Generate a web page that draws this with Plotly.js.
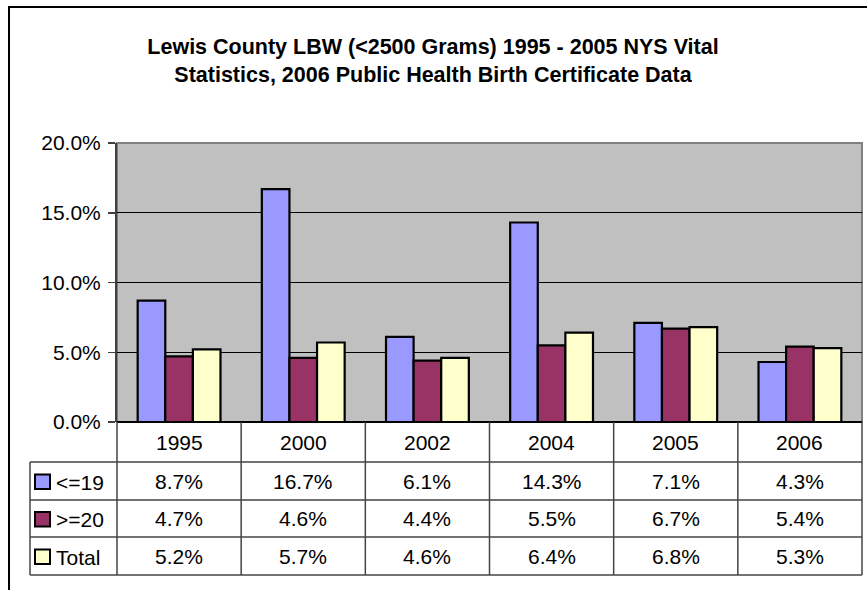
<!DOCTYPE html>
<html>
<head>
<meta charset="utf-8">
<script src="https://cdn.plot.ly/plotly-3.0.1.min.js"></script>
<style>html,body{margin:0;padding:0;background:#fff;}#chart{width:867px;height:590px;}</style>
</head>
<body>
<div id="chart"></div>
<script>
// ---- data ----
var years = ['1995', '2000', '2002', '2004', '2005', '2006'];
var seriesNames = ['<=19', '>=20', 'Total'];
var le19 = [8.7, 16.7, 6.1, 14.3, 7.1, 4.3];
var ge20 = [4.7, 4.6, 4.4, 5.5, 6.7, 5.4];
var total = [5.2, 5.7, 4.6, 6.4, 6.8, 5.3];
var yTickVals = [0, 5, 10, 15, 20];
var yTickText = ['0.0%', '5.0%', '10.0%', '15.0%', '20.0%'];
var titleText = 'Lewis County LBW (<2500 Grams) 1995 - 2005 NYS Vital<br>Statistics, 2006 Public Health Birth Certificate Data';

// ---- styling ----
var colors = ['#9999FF', '#993366', '#FFFFCC'];
var seriesData = [le19, ge20, total];
var W = 867, H = 590;
var L = 117, R = 862, T = 143, B = 422;
var pw = R - L, ph = B - T;
function px(x) { return (x - L) / pw; }
function py(y) { return (B - y) / ph; }

var traces = seriesData.map(function (d, k) {
  return {
    type: 'bar',
    x: years.map(function (_, i) { return i; }),
    y: d,
    name: seriesNames[k],
    marker: { color: colors[k], line: { color: '#000', width: 2.2 } },
    hoverinfo: 'skip'
  };
});

var font = 'Arial, "Liberation Sans", sans-serif';
var fs = 21;
var lineCol = '#444444';
var shapes = [];
var annotations = [];

// outer chart border
shapes.push({ type: 'path', xref: 'paper', yref: 'paper',
  path: 'M ' + px(9) + ',' + py(600) + ' L ' + px(9) + ',' + py(7) + ' L ' + px(880) + ',' + py(7),
  line: { color: '#000', width: 2 } });
// plot area border (gray)
shapes.push({ type: 'rect', xref: 'paper', yref: 'paper', x0: 0, x1: 1, y0: 0, y1: 1,
  line: { color: '#808080', width: 2 }, layer: 'below' });

// table geometry
var rowEdges = [462, 500, 537, 575];
var legLeft = 30;
var n = years.length;
for (var i = 0; i <= n; i++) {
  shapes.push({ type: 'line', xref: 'paper', yref: 'paper',
    x0: i / n, x1: i / n, y0: 0, y1: py(575), line: { color: lineCol, width: 1.5 } });
}
shapes.push({ type: 'line', xref: 'paper', yref: 'paper',
  x0: px(legLeft), x1: px(legLeft), y0: py(462), y1: py(575), line: { color: lineCol, width: 1.5 } });
rowEdges.forEach(function (y) {
  shapes.push({ type: 'line', xref: 'paper', yref: 'paper',
    x0: px(legLeft), x1: 1, y0: py(y), y1: py(y), line: { color: lineCol, width: 1.5 } });
});

// category labels
years.forEach(function (yr, i) {
  annotations.push({ xref: 'paper', yref: 'paper', x: (i + 0.5) / n, y: py(442),
    text: yr, showarrow: false, xanchor: 'center', yanchor: 'middle',
    font: { family: font, size: fs, color: '#000' } });
});
// rows
seriesData.forEach(function (d, k) {
  var yc = (rowEdges[k] + rowEdges[k + 1]) / 2;
  shapes.push({ type: 'rect', xref: 'paper', yref: 'paper',
    x0: px(35), x1: px(50), y0: py(yc - 6.5), y1: py(yc + 8),
    fillcolor: colors[k], line: { color: '#000', width: 2 } });
  annotations.push({ xref: 'paper', yref: 'paper', x: px(54), y: py(yc + 1),
    text: seriesNames[k].replace('<', '&lt;').replace('>', '&gt;'), showarrow: false,
    xanchor: 'left', yanchor: 'middle', font: { family: font, size: fs, color: '#000' } });
  d.forEach(function (v, i) {
    annotations.push({ xref: 'paper', yref: 'paper', x: (i + 0.5) / n, y: py(yc),
      text: v.toFixed(1) + '%', showarrow: false, xanchor: 'center', yanchor: 'middle',
      font: { family: font, size: fs, color: '#000' } });
  });
});

var layout = {
  width: W, height: H,
  margin: { l: L, r: W - R, t: T, b: H - B, pad: 0 },
  paper_bgcolor: '#FFFFFF',
  plot_bgcolor: '#C0C0C0',
  showlegend: false,
  barmode: 'group',
  bargap: 0.333,
  bargroupgap: 0,
  title: {
    text: titleText,
    font: { family: font, size: 21.5, color: '#000', weight: 'bold' },
    x: px(433), xref: 'paper', xanchor: 'center',
    y: 1 - 54 / H, yref: 'container', yanchor: 'middle'
  },
  xaxis: {
    type: 'linear', range: [-0.5, n - 0.5],
    showticklabels: false, showgrid: false, zeroline: false, ticks: '',
    showline: false, fixedrange: true
  },
  yaxis: {
    range: [0, 20], tickvals: yTickVals, ticktext: yTickText,
    showgrid: true, gridcolor: '#000', gridwidth: 1,
    zeroline: true, zerolinecolor: '#000', zerolinewidth: 1.5,
    showline: true, linecolor: '#404040', linewidth: 2,
    ticks: 'outside', ticklen: 7, tickcolor: '#404040', tickwidth: 1.5,
    tickfont: { family: font, size: fs, color: '#000' },
    ticklabelstandoff: 3,
    fixedrange: true
  },
  shapes: shapes,
  annotations: annotations
};

Plotly.newPlot('chart', traces, layout, { displayModeBar: false, staticPlot: true });
</script>
</body>
</html>
